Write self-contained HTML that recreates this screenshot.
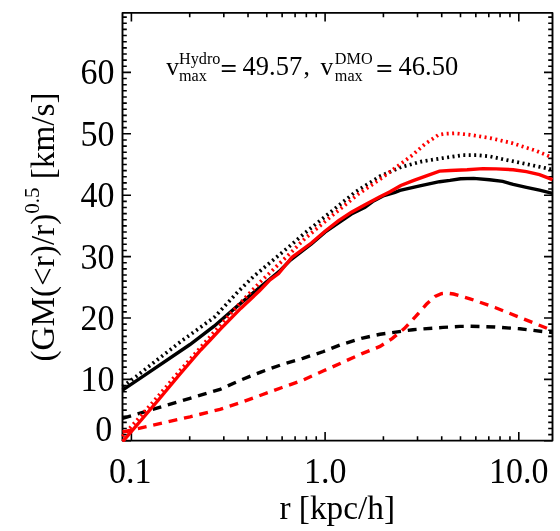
<!DOCTYPE html>
<html><head><meta charset="utf-8"><title>plot</title>
<style>
html,body{margin:0;padding:0;background:#fff;}
svg{display:block;will-change:transform;}
text{font-family:"Liberation Serif",serif;fill:#000;}
</style></head><body>
<svg width="560" height="531" viewBox="0 0 560 531">
<defs><clipPath id="c"><rect x="121.0" y="11.4" width="433.0" height="430.7"/></clipPath></defs>
<path d="M122.5 440.80h8.5M552.5 440.80h-8.5M122.5 434.66h4.3M552.5 434.66h-4.3M122.5 428.52h4.3M552.5 428.52h-4.3M122.5 422.38h4.3M552.5 422.38h-4.3M122.5 416.24h4.3M552.5 416.24h-4.3M122.5 410.10h4.3M552.5 410.10h-4.3M122.5 403.96h4.3M552.5 403.96h-4.3M122.5 397.82h4.3M552.5 397.82h-4.3M122.5 391.68h4.3M552.5 391.68h-4.3M122.5 385.54h4.3M552.5 385.54h-4.3M122.5 379.40h8.5M552.5 379.40h-8.5M122.5 373.26h4.3M552.5 373.26h-4.3M122.5 367.12h4.3M552.5 367.12h-4.3M122.5 360.98h4.3M552.5 360.98h-4.3M122.5 354.84h4.3M552.5 354.84h-4.3M122.5 348.70h4.3M552.5 348.70h-4.3M122.5 342.56h4.3M552.5 342.56h-4.3M122.5 336.42h4.3M552.5 336.42h-4.3M122.5 330.28h4.3M552.5 330.28h-4.3M122.5 324.14h4.3M552.5 324.14h-4.3M122.5 318.00h8.5M552.5 318.00h-8.5M122.5 311.86h4.3M552.5 311.86h-4.3M122.5 305.72h4.3M552.5 305.72h-4.3M122.5 299.58h4.3M552.5 299.58h-4.3M122.5 293.44h4.3M552.5 293.44h-4.3M122.5 287.30h4.3M552.5 287.30h-4.3M122.5 281.16h4.3M552.5 281.16h-4.3M122.5 275.02h4.3M552.5 275.02h-4.3M122.5 268.88h4.3M552.5 268.88h-4.3M122.5 262.74h4.3M552.5 262.74h-4.3M122.5 256.60h8.5M552.5 256.60h-8.5M122.5 250.46h4.3M552.5 250.46h-4.3M122.5 244.32h4.3M552.5 244.32h-4.3M122.5 238.18h4.3M552.5 238.18h-4.3M122.5 232.04h4.3M552.5 232.04h-4.3M122.5 225.90h4.3M552.5 225.90h-4.3M122.5 219.76h4.3M552.5 219.76h-4.3M122.5 213.62h4.3M552.5 213.62h-4.3M122.5 207.48h4.3M552.5 207.48h-4.3M122.5 201.34h4.3M552.5 201.34h-4.3M122.5 195.20h8.5M552.5 195.20h-8.5M122.5 189.06h4.3M552.5 189.06h-4.3M122.5 182.92h4.3M552.5 182.92h-4.3M122.5 176.78h4.3M552.5 176.78h-4.3M122.5 170.64h4.3M552.5 170.64h-4.3M122.5 164.50h4.3M552.5 164.50h-4.3M122.5 158.36h4.3M552.5 158.36h-4.3M122.5 152.22h4.3M552.5 152.22h-4.3M122.5 146.08h4.3M552.5 146.08h-4.3M122.5 139.94h4.3M552.5 139.94h-4.3M122.5 133.80h8.5M552.5 133.80h-8.5M122.5 127.66h4.3M552.5 127.66h-4.3M122.5 121.52h4.3M552.5 121.52h-4.3M122.5 115.38h4.3M552.5 115.38h-4.3M122.5 109.24h4.3M552.5 109.24h-4.3M122.5 103.10h4.3M552.5 103.10h-4.3M122.5 96.96h4.3M552.5 96.96h-4.3M122.5 90.82h4.3M552.5 90.82h-4.3M122.5 84.68h4.3M552.5 84.68h-4.3M122.5 78.54h4.3M552.5 78.54h-4.3M122.5 72.40h8.5M552.5 72.40h-8.5M122.5 66.26h4.3M552.5 66.26h-4.3M122.5 60.12h4.3M552.5 60.12h-4.3M122.5 53.98h4.3M552.5 53.98h-4.3M122.5 47.84h4.3M552.5 47.84h-4.3M122.5 41.70h4.3M552.5 41.70h-4.3M122.5 35.56h4.3M552.5 35.56h-4.3M122.5 29.42h4.3M552.5 29.42h-4.3M122.5 23.28h4.3M552.5 23.28h-4.3M122.5 17.14h4.3M552.5 17.14h-4.3M131.40 440.6v-8.5M131.40 12.9v8.5M189.71 440.6v-4.3M189.71 12.9v4.3M223.82 440.6v-4.3M223.82 12.9v4.3M248.02 440.6v-4.3M248.02 12.9v4.3M266.79 440.6v-4.3M266.79 12.9v4.3M282.13 440.6v-4.3M282.13 12.9v4.3M295.10 440.6v-4.3M295.10 12.9v4.3M306.33 440.6v-4.3M306.33 12.9v4.3M316.24 440.6v-4.3M316.24 12.9v4.3M325.10 440.6v-8.5M325.10 12.9v8.5M383.41 440.6v-4.3M383.41 12.9v4.3M417.52 440.6v-4.3M417.52 12.9v4.3M441.72 440.6v-4.3M441.72 12.9v4.3M460.49 440.6v-4.3M460.49 12.9v4.3M475.83 440.6v-4.3M475.83 12.9v4.3M488.80 440.6v-4.3M488.80 12.9v4.3M500.03 440.6v-4.3M500.03 12.9v4.3M509.94 440.6v-4.3M509.94 12.9v4.3M518.80 440.6v-8.5M518.80 12.9v8.5" stroke="#000" stroke-width="1.6" fill="none"/>
<rect x="122.5" y="12.9" width="430.0" height="427.7" fill="none" stroke="#000" stroke-width="1.9" stroke-linejoin="round"/>
<g clip-path="url(#c)" fill="none" stroke-linejoin="miter">
<polyline points="122.5,390.2 150.0,371.6 190.0,344.5 214.1,326.2 237.3,306.1 255.0,291.3 267.2,281.2 279.0,271.6 290.7,259.8 311.4,244.0 325.0,232.1 340.0,221.8 351.4,214.0 365.0,207.2 372.6,201.6 384.0,195.6 395.0,192.3 400.0,190.4 419.8,185.9 439.5,181.7 450.0,180.4 460.5,178.8 473.7,178.4 489.5,179.7 502.7,181.4 513.2,184.4 526.4,187.3 539.5,190.2 552.5,193.4" stroke="#000" stroke-width="3.4"/>
<polyline points="122.5,386.6 136.1,376.5 153.4,362.8 182.2,340.5 211.4,319.4 215.0,316.6 237.7,292.0 253.2,276.8 290.7,245.3 303.8,233.9 332.2,210.8 355.2,192.1 380.0,176.2 401.4,167.0 422.1,161.4 442.9,158.1 462.7,155.2 477.8,155.2 490.0,156.4 501.8,159.0 522.5,163.2 551.5,169.4" stroke="#000" stroke-width="3.7" stroke-dasharray="2.0 3.45"/>
<polyline points="122.5,418.3 190.0,398.3 220.0,389.4 240.7,380.1 261.4,371.8 282.1,364.5 302.9,358.3 323.6,351.5 340.7,344.8 361.4,338.3 380.0,334.3 412.9,329.7 442.9,327.4 460.0,326.4 470.0,326.3 495.0,327.0 520.0,328.8 545.0,331.8 552.5,332.5" stroke="#000" stroke-width="3.4" stroke-dasharray="8.9 6.85"/>
<polyline points="122.5,441.5 124.0,440.0 158.4,400.0 179.2,375.0 183.5,370.0 200.7,350.0 210.2,340.0 220.4,329.2 240.7,308.4 259.5,290.8 270.0,279.8 278.6,273.5 291.8,257.4 311.4,243.0 325.0,231.2 338.6,220.6 351.4,212.2 365.0,204.8 380.0,196.8 390.0,191.8 400.8,185.5 413.2,180.6 426.4,175.8 439.5,171.1 450.0,170.5 467.1,169.8 483.0,168.6 496.1,168.9 513.2,169.7 526.4,171.6 539.5,174.6 552.5,179.6" stroke="#ff0000" stroke-width="3.4"/>
<polyline points="122.5,436.5 154.8,400.0 180.5,370.0 218.9,326.7 237.3,306.1 260.2,282.0 290.7,252.8 305.0,238.5 332.0,215.7 358.7,193.8 380.0,179.3 401.4,163.4 412.3,155.2 425.1,143.9 438.6,134.8 444.6,133.8 455.2,133.3 470.2,134.8 491.4,138.3 512.1,143.1 519.8,145.6 535.6,150.6 551.5,157.2" stroke="#ff0000" stroke-width="3.7" stroke-dasharray="2.0 3.45"/>
<polyline points="122.5,432.0 190.0,416.8 220.0,409.3 240.7,402.6 261.4,395.0 282.1,387.5 302.9,380.1 323.6,370.8 340.7,363.2 361.4,353.9 380.0,346.4 392.1,338.6 404.3,328.6 415.7,316.4 426.4,304.3 435.0,296.4 441.4,293.6 447.0,293.1 453.6,294.0 470.0,298.8 495.0,307.5 520.0,317.5 545.0,327.5 552.5,330.5" stroke="#ff0000" stroke-width="3.4" stroke-dasharray="8.9 6.85"/>
</g>
<text transform="translate(114.5,391.3) scale(1,1.05)" font-size="34" text-anchor="end">10</text>
<text transform="translate(114.5,329.9) scale(1,1.05)" font-size="34" text-anchor="end">20</text>
<text transform="translate(114.5,268.5) scale(1,1.05)" font-size="34" text-anchor="end">30</text>
<text transform="translate(114.5,207.1) scale(1,1.05)" font-size="34" text-anchor="end">40</text>
<text transform="translate(114.5,145.7) scale(1,1.05)" font-size="34" text-anchor="end">50</text>
<text transform="translate(114.5,84.3) scale(1,1.05)" font-size="34" text-anchor="end">60</text>
<text transform="translate(112.2,441.4) scale(1,1.05)" font-size="34" text-anchor="end">0</text>
<text transform="translate(130.2,482.9) scale(1,1.05)" font-size="34" text-anchor="middle">0.1</text>
<text transform="translate(325.3,482.9) scale(1,1.05)" font-size="34" text-anchor="middle">1.0</text>
<text transform="translate(518.8,482.9) scale(1,1.05)" font-size="34" text-anchor="middle">10.0</text>
<text transform="translate(337.2,518.6) scale(1,1.0)" font-size="33.3" text-anchor="middle">r [kpc/h]</text>
<text transform="translate(53.6,361.5) rotate(-90)" font-size="33.2">(GM(&lt;r)/r)<tspan font-size="21" dy="-15">0.5</tspan><tspan dy="15"> [km/s]</tspan></text>
<text transform="translate(166.2,75.0) scale(1,1.0)" font-size="25.5" text-anchor="start">v</text>
<text transform="translate(179.0,63.6) scale(1,1.0)" font-size="16.2" text-anchor="start">Hydro</text>
<text transform="translate(179.0,80.7) scale(1,1.0)" font-size="16.2" text-anchor="start">max</text>
<text transform="translate(242.6,75.0) scale(1,1.05)" font-size="26.5" text-anchor="start">49.57</text>
<text transform="translate(303.4,75.0) scale(1,1.0)" font-size="25.5" text-anchor="start">,</text>
<text transform="translate(320.4,75.0) scale(1,1.0)" font-size="25.5" text-anchor="start">v</text>
<text transform="translate(334.8,63.6) scale(1,1.0)" font-size="16.2" text-anchor="start">DMO</text>
<text transform="translate(334.8,80.7) scale(1,1.0)" font-size="16.2" text-anchor="start">max</text>
<text transform="translate(398.6,75.0) scale(1,1.05)" font-size="26.5" text-anchor="start">46.50</text>
<path d="M221.8 65.8h13.8M221.8 71.1h13.8M377.4 65.8h13.8M377.4 71.1h13.8" stroke="#000" stroke-width="1.8" fill="none"/>
</svg>
</body></html>
